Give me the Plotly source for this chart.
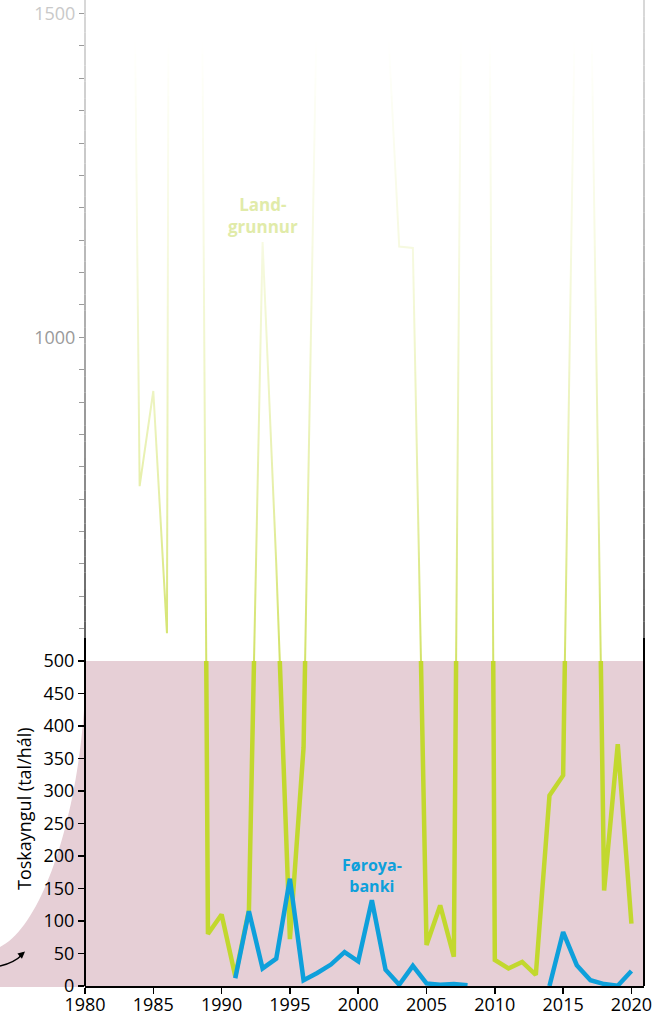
import numpy as np
import plotly.graph_objects as go

# ---------------- data ----------------
years_land = list(range(1983, 2021))
landgrunnur = [2860, 770, 917, 543, 9000, 3470, 80, 110, 15, 117,
               1147, 650, 72, 367, 1550, 2400, 2900, 2600, 2100, 1557,
               1140, 1138, 63, 124, 45, 2800, 4000, 40, 27, 37,
               17, 293, 324, 1700, 1600, 147, 372, 96]

years_bank = list(range(1991, 2021))
foroyabanki = [12, 115, 27, 42, 165, 9, 20, 33, 52, 38,
               132, 25, 2, 31, 4, 2, 3, 1, None, None,
               None, None, None, 0, 83, 32, 9, 3, 0.5, 23]

x_ticks = list(range(1980, 2021, 5))
y_ticks_low = list(range(0, 501, 50))
y_ticks_high = list(range(550, 1501, 50))
y_labels_high = {1000: "1000", 1500: "<span style='color:#c9c9c9'>1500</span>"}

# ---------------- style ----------------
GREEN = "#c2d82e"
BLUE = "#0ea0db"
PINK = "#e6cfd6"
FONT = "Open Sans"

W, H = 659, 1016
L, R, T, B = 85, 644, 0, 986          # plot area in pixels
Y500 = 661                            # pixel row of value 500


def px(x):
    return (x - L) / (R - L)


def py(y):
    return (B - y) / (B - T)


split = py(Y500)
upper_top = 500 + (Y500 - T) / 0.6475

fig = go.Figure()

# thin faded part (upper panel)
fig.add_trace(go.Scatter(x=years_land, y=landgrunnur, xaxis="x2", yaxis="y2",
                         mode="lines", line=dict(color=GREEN, width=2),
                         hoverinfo="skip", showlegend=False))
# thick parts (lower panel)
fig.add_trace(go.Scatter(x=years_land, y=landgrunnur, xaxis="x", yaxis="y",
                         mode="lines", line=dict(color=GREEN, width=4.5),
                         showlegend=False))
fig.add_trace(go.Scatter(x=years_bank, y=foroyabanki, xaxis="x", yaxis="y",
                         mode="lines", line=dict(color=BLUE, width=4.5),
                         connectgaps=False, showlegend=False))

shapes = []
# pink background of lower panel
shapes.append(dict(type="rect", xref="x domain", yref="y domain", x0=0, x1=1,
                   y0=0, y1=1, fillcolor=PINK, line=dict(width=0), layer="below"))
# pink decorative curve left of axis
path = (f"M {px(86)} {py(661)} "
        f"C {px(85)} {py(800)} {px(45)} {py(925)} {px(0)} {py(947)} "
        f"L {px(0)} {py(987)} L {px(86)} {py(987)} Z")
shapes.append(dict(type="path", xref="paper", yref="paper", path=path,
                   fillcolor=PINK, line=dict(width=0), layer="below"))

# white fade over upper panel
prof_y = [0, 40, 100, 240, 338, 500, 661]
prof_w = [1.0, 1.0, 0.95, 0.86, 0.77, 0.58, 0.28]
step = 6
for y0 in range(0, Y500, step):
    y1 = min(y0 + step, Y500)
    w = float(np.interp((y0 + y1) / 2, prof_y, prof_w))
    shapes.append(dict(type="rect", xref="paper", yref="paper",
                       x0=px(L + 1.2), x1=px(R - 1.2), y0=py(y1), y1=py(y0),
                       fillcolor="white", opacity=w, line=dict(width=0),
                       layer="above"))

# axis lines: solid in the lower part, graded upwards
for xx in (L, R):
    shapes.append(dict(type="line", xref="paper", yref="paper",
                       x0=px(xx), x1=px(xx), y0=py(B), y1=py(638),
                       line=dict(color="black", width=2)))
    edges = np.linspace(638, 0, 40)
    for a, b in zip(edges[:-1], edges[1:]):
        mid = (a + b) / 2
        g = int(np.interp(mid, [0, 150, 338, 500, 638], [205, 185, 145, 95, 45]))
        shapes.append(dict(type="line", xref="paper", yref="paper",
                           x0=px(xx), x1=px(xx), y0=py(a), y1=py(b),
                           line=dict(color=f"rgb({g},{g},{g})", width=1.5)))

# small curved arrow at bottom left
shapes.append(dict(type="path", xref="paper", yref="paper",
                   path=f"M {px(0)} {py(966)} Q {px(14)} {py(963)} {px(23)} {py(954)}",
                   line=dict(color="black", width=1.4)))

annotations = [
    dict(x=px(25), y=py(951.5), xref="paper", yref="paper", text="",
         showarrow=True, ax=-7, ay=6, arrowhead=2, arrowsize=1,
         arrowwidth=1.4, arrowcolor="black", standoff=0),
    dict(x=px(24), y=py(809), xref="paper", yref="paper",
         text="Toskayngul (tal/hál)", textangle=-90, showarrow=False,
         xanchor="center", yanchor="middle",
         font=dict(family=FONT, size=18, color="black")),
    dict(x=px(372), y=py(875), xref="paper", yref="paper",
         text="<b>Føroya-<br>banki</b>", showarrow=False,
         xanchor="center", yanchor="middle",
         font=dict(family=FONT, size=16, color=BLUE)),
    dict(x=px(263), y=py(215), xref="paper", yref="paper",
         text="<b>Land-<br>grunnur</b>", showarrow=False,
         xanchor="center", yanchor="middle",
         font=dict(family=FONT, size=17, color="#e1eba9")),
]

fig.update_layout(
    width=W, height=H,
    margin=dict(l=L, r=W - R, t=T, b=H - B, pad=0, autoexpand=False),
    paper_bgcolor="white", plot_bgcolor="rgba(0,0,0,0)",
    font=dict(family=FONT, color="black"),
    showlegend=False,
    xaxis=dict(domain=[0, 1], range=[1980, 2020.92], anchor="y",
               automargin=False,
               tickvals=x_ticks, ticks="outside", ticklen=6, tickwidth=1.5,
               tickcolor="black", showline=True, linecolor="black",
               linewidth=2, showgrid=False, zeroline=False,
               ticklabelstandoff=-5,
               tickfont=dict(family=FONT, size=18, color="black")),
    xaxis2=dict(domain=[0, 1], range=[1980, 2020.92], anchor="y2",
                automargin=False, matches="x", visible=False),
    yaxis=dict(domain=[0, split], range=[0, 500], anchor="x",
               automargin=False,
               tickvals=y_ticks_low, ticks="outside", ticklen=6,
               tickwidth=1.5, tickcolor="black", showline=False,
               showgrid=False, zeroline=False,
               tickfont=dict(family=FONT, size=18, color="black")),
    yaxis2=dict(domain=[split, 1], range=[500, upper_top], anchor="x2",
                automargin=False,
                tickvals=y_ticks_high,
                ticktext=[y_labels_high.get(v, "") for v in y_ticks_high],
                ticks="outside", ticklen=5, tickwidth=1, tickcolor="#9a9a9a",
                showline=False, showgrid=False, zeroline=False,
                tickfont=dict(family=FONT, size=18, color="#9a9a9a")),
    shapes=shapes,
    annotations=annotations,
)

fig.write_html("out.html",
               config={"displayModeBar": False, "staticPlot": True},
               post_script="document.body.style.margin='0';"
                           "document.body.style.overflow='hidden';")
